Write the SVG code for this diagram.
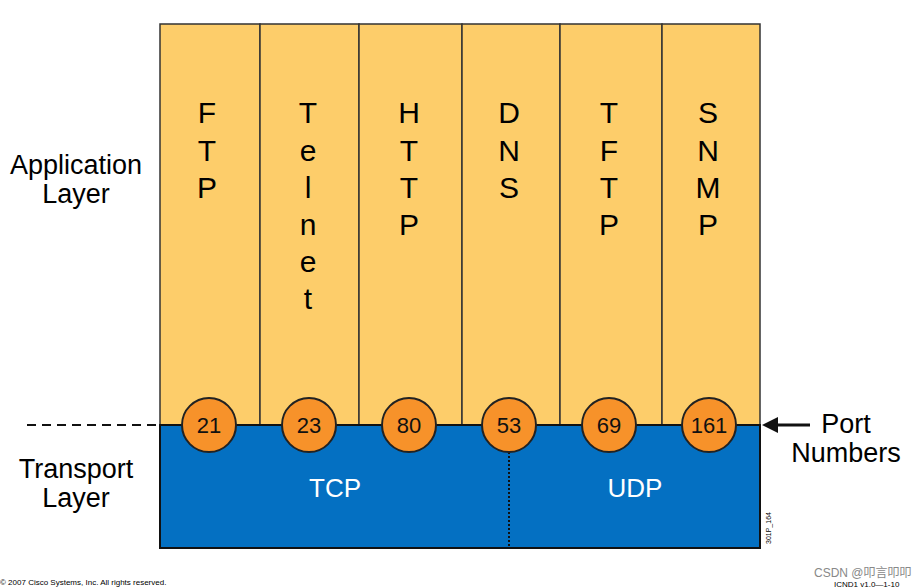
<svg xmlns="http://www.w3.org/2000/svg" width="919" height="588" viewBox="0 0 919 588">
<style>
.t{font-family:"Liberation Sans",Arial,sans-serif;fill:#000}
.big{font-size:30px;text-anchor:middle}
.lbl{font-size:27px;text-anchor:middle}
.num{font-size:22px;text-anchor:middle;fill:#111}
.wt{font-family:"Liberation Sans",Arial,sans-serif;font-size:26px;fill:#fff;text-anchor:middle}
.port{fill:#f7922a;stroke:#222;stroke-width:2}
.col{fill:#fdcd6a;stroke:#333;stroke-width:1.5}
</style>
<rect width="919" height="588" fill="#fff"/>
<g id="app-layer">
<rect class="col" x="160" y="24" width="100" height="401"/>
<rect class="col" x="260" y="24" width="99" height="401"/>
<rect class="col" x="359" y="24" width="103" height="401"/>
<rect class="col" x="462" y="24" width="98" height="401"/>
<rect class="col" x="560" y="24" width="102" height="401"/>
<rect class="col" x="662" y="24" width="98" height="401"/>
</g>
<g id="protocols" class="t big">
<text x="207" y="123">F</text><text x="207" y="161">T</text><text x="207" y="198">P</text>
<text x="308" y="123">T</text><text x="308" y="161">e</text><text x="308" y="198">l</text><text x="308" y="235">n</text><text x="308" y="272">e</text><text x="308" y="309">t</text>
<text x="409" y="123">H</text><text x="409" y="161">T</text><text x="409" y="198">T</text><text x="409" y="235">P</text>
<text x="509" y="123">D</text><text x="509" y="161">N</text><text x="509" y="198">S</text>
<text x="609" y="123">T</text><text x="609" y="161">F</text><text x="609" y="198">T</text><text x="609" y="235">P</text>
<text x="708" y="123">S</text><text x="708" y="161">N</text><text x="708" y="198">M</text><text x="708" y="235">P</text>
</g>
<g id="transport">
<rect x="160" y="425" width="600" height="123" fill="#0470c2" stroke="#111" stroke-width="2"/>
<line x1="509" y1="452" x2="509" y2="548" stroke="#111" stroke-width="2" stroke-dasharray="2,2"/>
<text class="wt" x="335" y="497">TCP</text>
<text class="wt" x="635" y="497">UDP</text>
</g>
<g id="connectors">
<line x1="27" y1="425" x2="160" y2="425" stroke="#111" stroke-width="2" stroke-dasharray="9,6"/>
<line x1="160" y1="425" x2="760" y2="425" stroke="#111" stroke-width="2"/>
<line x1="775" y1="425" x2="810" y2="425" stroke="#111" stroke-width="3"/>
<polygon points="762,425 778,417 778,433" fill="#111"/>
</g>
<g id="ports">
<circle class="port" cx="209" cy="425" r="27"/><text class="t num" x="209" y="433">21</text>
<circle class="port" cx="309" cy="425" r="27"/><text class="t num" x="309" y="433">23</text>
<circle class="port" cx="409" cy="425" r="27"/><text class="t num" x="409" y="433">80</text>
<circle class="port" cx="509" cy="425" r="27"/><text class="t num" x="509" y="433">53</text>
<circle class="port" cx="609" cy="425" r="27"/><text class="t num" x="609" y="433">69</text>
<circle class="port" cx="709" cy="425" r="27"/><text class="t num" x="709" y="433">161</text>
</g>
<g id="labels" class="t lbl">
<text x="76" y="174">Application</text><text x="76" y="203">Layer</text>
<text x="76" y="478">Transport</text><text x="76" y="507">Layer</text>
<text x="846" y="433">Port</text><text x="846" y="462">Numbers</text>
</g>
<text class="t" x="0" y="0" font-size="7" fill="#666" transform="translate(771,544) rotate(-90)">301P_164</text>
<text class="t" x="0" y="585" font-size="8" fill="#bbb">© 2007 Cisco Systems, Inc. All rights reserved.</text>
<text class="t" x="834" y="587" font-size="8" fill="#bbb">ICND1 v1.0—1-10</text>
<text x="814" y="577" font-size="12" fill="#888" font-family="Liberation Sans,Noto Sans CJK SC,sans-serif">CSDN @叩言叩叩</text>
</svg>
